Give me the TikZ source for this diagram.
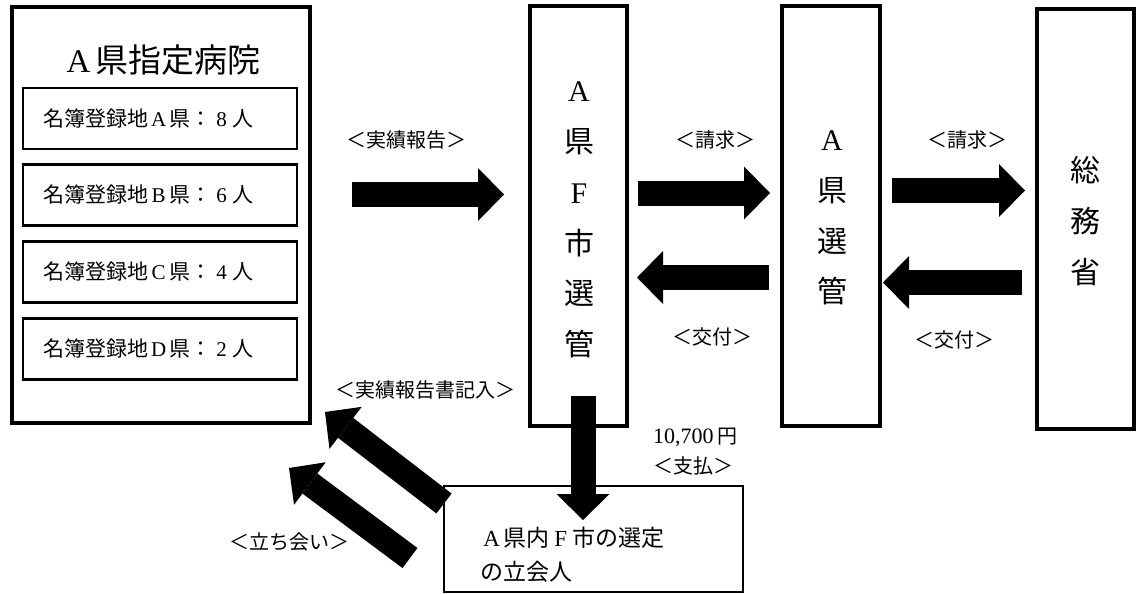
\documentclass[tikz,border=0pt]{standalone}
\usepackage{fontspec}
\setmainfont{Noto Sans CJK JP}
\newfontfamily\ser{Liberation Serif}
\newcommand{\fw}[1]{\makebox[1em]{\ser #1}}
\usetikzlibrary{arrows.meta}
\tikzset{
  outerbox/.style={draw, line width=4pt, minimum width=#1, inner sep=0pt},
  innerbox/.style={draw, line width=2.5pt, minimum width=274pt, minimum height=61pt, inner sep=0pt},
  boxtext/.style={font=\fontsize{21}{25}\selectfont, anchor=west, inner sep=0pt},
  vtext/.style={font=\fontsize{30}{50.8}\selectfont, align=center, inner sep=0pt},
  lab/.style={font=\fontsize{20}{24}\selectfont, inner sep=0pt},
  blockarr/.style={line width=25pt, -{Triangle[length=26pt,width=53pt,line width=0pt]}},
}
\begin{document}
\begin{tikzpicture}[x=1pt,y=-1pt]
\useasboundingbox (0,0) rectangle (1138,594);
% hospital
\node[outerbox=298pt, minimum height=416pt] (h) at (161,215) {};
\node[font=\fontsize{33}{38}\selectfont, inner sep=0pt] (htitle) at (161,60) {\fw{A}県指定病院};
\node[innerbox] (hA) at (160,118.5) {};
\node[innerbox] (hB) at (160,195) {};
\node[innerbox] (hC) at (160,272) {};
\node[innerbox] (hD) at (160,349) {};
\node[boxtext] (tA) at (43,118.5) {名簿登録地\fw{A}県：\fw{8}人};
\node[boxtext] (tB) at (43,195) {名簿登録地\fw{B}県：\fw{6}人};
\node[boxtext] (tC) at (43,272) {名簿登録地\fw{C}県：\fw{4}人};
\node[boxtext] (tD) at (43,349) {名簿登録地\fw{D}県：\fw{2}人};
% columns
\node[outerbox=97pt, minimum height=420pt] (f) at (578.5,216) {};
\node[vtext] (ft) at (579,220) {\fw{A}\\県\\\fw{F}\\市\\選\\管};
\node[outerbox=98pt, minimum height=420pt] (k) at (831,216) {};
\node[vtext] (kt) at (832,218) {\fw{A}\\県\\選\\管};
\node[outerbox=97pt, minimum height=420pt] (s) at (1085.5,219) {};
\node[vtext] (st) at (1085,221) {総\\務\\省};
% bottom box
\node[draw, line width=2pt, minimum width=299pt, minimum height=106pt, inner sep=0pt] (t) at (593.5,539) {};
\node[font=\fontsize{23}{34}\selectfont, align=left, anchor=west, inner sep=0pt] (tt) at (480,555) {\fw{A}県内\fw{F}市の選定\\の立会人};
% labels
\node[lab] (l1) at (406,140) {＜実績報告＞};
\node[lab] (l2) at (715,140) {＜請求＞};
\node[lab] (l3) at (967,140) {＜請求＞};
\node[lab] (l4) at (712,337) {＜交付＞};
\node[lab] (l5) at (954,340) {＜交付＞};
\node[lab] (l6) at (425,390) {＜実績報告書記入＞};
\node[lab] (l7) at (289,542) {＜立ち会い＞};
\node[lab, anchor=west] (l8) at (653,437) {{\ser\fontsize{22}{26}\selectfont 10,700}\,円};
\node[lab, anchor=west] (l9) at (653,466) {＜支払＞};
% arrow end points
\coordinate (a1s) at (352,194.5); \coordinate (a1e) at (504,194.5);
\coordinate (a2s) at (638,193); \coordinate (a2e) at (770,193);
\coordinate (a3s) at (892,190.5); \coordinate (a3e) at (1025,190.5);
\coordinate (a4s) at (769,277.5); \coordinate (a4e) at (637,277.5);
\coordinate (a5s) at (1022,282.5); \coordinate (a5e) at (883,282.5);
\coordinate (a6s) at (583,396); \coordinate (a6e) at (583,520);
\coordinate (a7s) at (444,503.5); \coordinate (a7e) at (325,412);
\coordinate (a8s) at (410,558); \coordinate (a8e) at (289,468);
\draw[blockarr] (a1s) -- (a1e);
\draw[blockarr] (a2s) -- (a2e);
\draw[blockarr] (a3s) -- (a3e);
\draw[blockarr] (a4s) -- (a4e);
\draw[blockarr] (a5s) -- (a5e);
\draw[blockarr] (a6s) -- (a6e);
\draw[blockarr] (a7s) -- (a7e);
\draw[blockarr] (a8s) -- (a8e);
\end{tikzpicture}
\end{document}
